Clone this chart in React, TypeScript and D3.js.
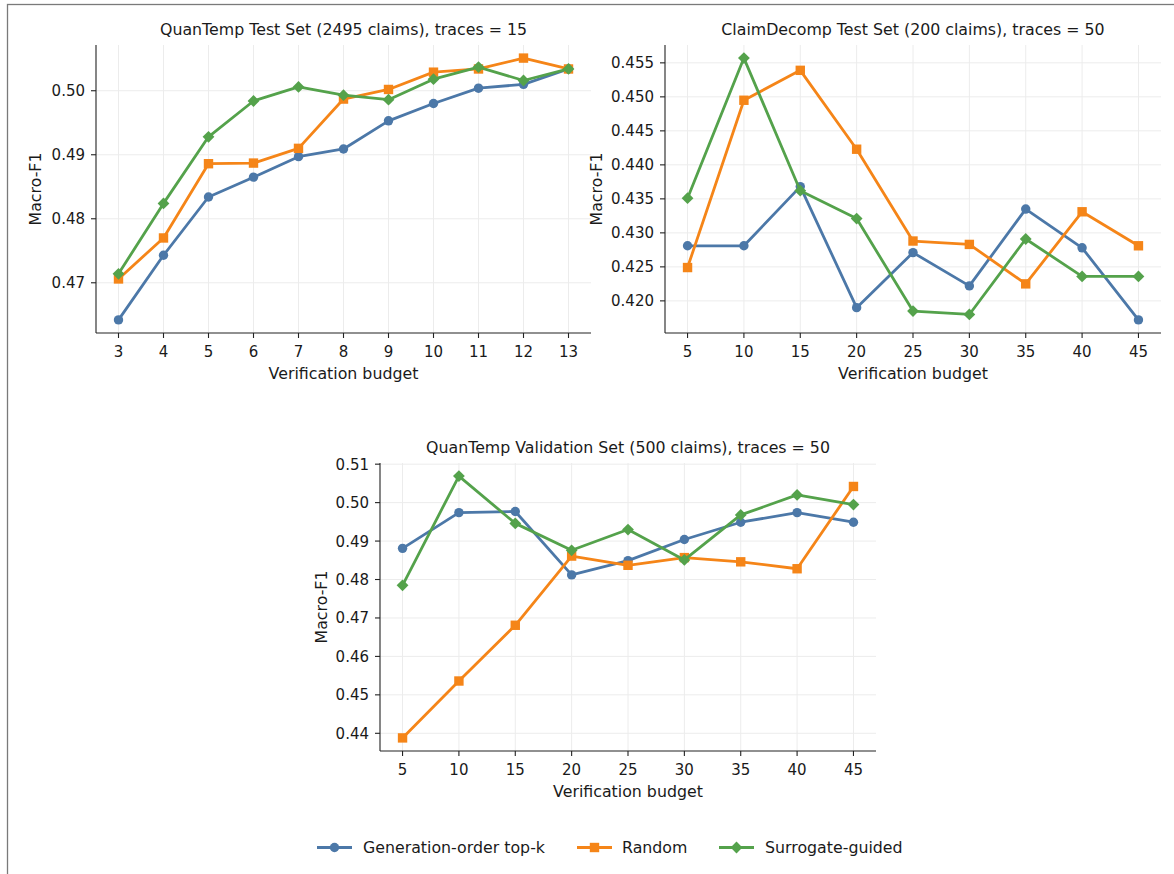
import React from "react";
import * as d3 from "d3";

// ---------- data ----------
const seriesNames = ["Generation-order top-k", "Random", "Surrogate-guided"];
const seriesColors = ["#4C78A8", "#F58518", "#54A24B"];
const seriesMarkers = ["circle", "square", "diamond"];

const p1Budgets = [3, 4, 5, 6, 7, 8, 9, 10, 11, 12, 13];
const p1Generation = [0.4642, 0.4743, 0.4834, 0.4865, 0.4897, 0.4909, 0.4953, 0.498, 0.5004, 0.501, 0.5034];
const p1Random = [0.4706, 0.477, 0.4886, 0.4887, 0.491, 0.4987, 0.5002, 0.5029, 0.5034, 0.5051, 0.5034];
const p1Surrogate = [0.4714, 0.4824, 0.4928, 0.4984, 0.5006, 0.4993, 0.4986, 0.5018, 0.5037, 0.5016, 0.5034];
const p1YTicks = [0.47, 0.48, 0.49, 0.5];

const p2Budgets = [5, 10, 15, 20, 25, 30, 35, 40, 45];
const p2Generation = [0.4281, 0.4281, 0.4368, 0.419, 0.4271, 0.4222, 0.4335, 0.4278, 0.4172];
const p2Random = [0.4249, 0.4495, 0.4539, 0.4423, 0.4288, 0.4283, 0.4225, 0.4331, 0.4281];
const p2Surrogate = [0.4351, 0.4557, 0.4362, 0.4321, 0.4185, 0.418, 0.4291, 0.4236, 0.4236];
const p2YTicks = [0.42, 0.425, 0.43, 0.435, 0.44, 0.445, 0.45, 0.455];

const p3Budgets = [5, 10, 15, 20, 25, 30, 35, 40, 45];
const p3Generation = [0.4881, 0.4974, 0.4977, 0.4812, 0.4849, 0.4904, 0.4949, 0.4974, 0.4949];
const p3Random = [0.4388, 0.4536, 0.4681, 0.4861, 0.4837, 0.4857, 0.4846, 0.4828, 0.5042];
const p3Surrogate = [0.4785, 0.5069, 0.4946, 0.4876, 0.493, 0.4851, 0.4968, 0.502, 0.4995];
const p3YTicks = [0.44, 0.45, 0.46, 0.47, 0.48, 0.49, 0.5, 0.51];

const panelTitles = [
  "QuanTemp Test Set (2495 claims), traces = 15",
  "ClaimDecomp Test Set (200 claims), traces = 50",
  "QuanTemp Validation Set (500 claims), traces = 50",
];
const xLabel = "Verification budget";
const yLabel = "Macro-F1";

const FONT = "DejaVu Sans, sans-serif";
const FS = 15.8;
const TICK_FS = 15;

type PanelProps = {
  left: number;
  top: number;
  width: number;
  height: number;
  budgets: number[];
  series: number[][];
  yTicks: number[];
  yFmt: string;
  title: string;
  yLabelOffset: number;
};

function Marker({ kind, x, y, color }: { kind: string; x: number; y: number; color: string }) {
  if (kind === "circle") return <circle cx={x} cy={y} r={4.7} fill={color} />;
  if (kind === "square") return <rect x={x - 4.7} y={y - 4.7} width={9.4} height={9.4} fill={color} />;
  const s = 5.9;
  return <path d={`M${x},${y - s}L${x + s},${y}L${x},${y + s}L${x - s},${y}Z`} fill={color} />;
}

function Panel(p: PanelProps) {
  const all = p.series.flat();
  const yMin = d3.min(all)!;
  const yMax = d3.max(all)!;
  const yPad = (yMax - yMin) * 0.05;
  const bMin = d3.min(p.budgets)!;
  const bMax = d3.max(p.budgets)!;
  const xPad = (bMax - bMin) * 0.05;
  const x = d3.scaleLinear().domain([bMin - xPad, bMax + xPad]).range([p.left, p.left + p.width]);
  const y = d3.scaleLinear().domain([yMin - yPad, yMax + yPad]).range([p.top + p.height, p.top]);
  const fmt = d3.format(p.yFmt);
  const bottom = p.top + p.height;
  const line = d3
    .line<number>()
    .x((_, i) => x(p.budgets[i]))
    .y((d) => y(d));
  return (
    <g>
      {p.budgets.map((b) => (
        <line key={"gx" + b} x1={x(b)} x2={x(b)} y1={p.top} y2={bottom} stroke="#ececec" strokeWidth={1} />
      ))}
      {p.yTicks.map((t) => (
        <line key={"gy" + t} x1={p.left} x2={p.left + p.width} y1={y(t)} y2={y(t)} stroke="#ececec" strokeWidth={1} />
      ))}
      {p.series.map((s, si) => (
        <g key={"s" + si}>
          <path d={line(s)!} fill="none" stroke={seriesColors[si]} strokeWidth={2.8} strokeLinejoin="round" />
          {s.map((v, i) => (
            <Marker key={i} kind={seriesMarkers[si]} x={x(p.budgets[i])} y={y(v)} color={seriesColors[si]} />
          ))}
        </g>
      ))}
      <line x1={p.left} x2={p.left} y1={p.top} y2={bottom} stroke="#222" strokeWidth={1.1} />
      <line x1={p.left} x2={p.left + p.width} y1={bottom} y2={bottom} stroke="#222" strokeWidth={1.1} />
      {p.budgets.map((b) => (
        <g key={"xt" + b}>
          <line x1={x(b)} x2={x(b)} y1={bottom} y2={bottom + 5} stroke="#222" strokeWidth={1.1} />
          <text x={x(b)} y={bottom + 24} textAnchor="middle" fontFamily={FONT} fontSize={TICK_FS} fill="#1a1a1a">
            {b}
          </text>
        </g>
      ))}
      {p.yTicks.map((t) => (
        <g key={"yt" + t}>
          <line x1={p.left - 5} x2={p.left} y1={y(t)} y2={y(t)} stroke="#222" strokeWidth={1.1} />
          <text x={p.left - 11} y={y(t) + 5.5} textAnchor="end" fontFamily={FONT} fontSize={TICK_FS} fill="#1a1a1a">
            {fmt(t)}
          </text>
        </g>
      ))}
      <text
        x={p.left + p.width / 2}
        y={p.top - 10.5}
        textAnchor="middle"
        fontFamily={FONT}
        fontSize={FS}
        fill="#1a1a1a"
      >
        {p.title}
      </text>
      <text x={p.left + p.width / 2} y={bottom + 46} textAnchor="middle" fontFamily={FONT} fontSize={FS} fill="#1a1a1a">
        {xLabel}
      </text>
      <text
        transform={`translate(${p.left - p.yLabelOffset},${p.top + p.height / 2}) rotate(-90)`}
        textAnchor="middle"
        fontFamily={FONT}
        fontSize={FS}
        fill="#1a1a1a"
      >
        {yLabel}
      </text>
    </g>
  );
}

function Legend({ cy }: { cy: number }) {
  const items = [
    { lx: 317, tx: 363 },
    { lx: 577, tx: 622 },
    { lx: 719, tx: 765 },
  ];
  return (
    <g>
      {seriesNames.map((name, i) => (
        <g key={name}>
          <line x1={items[i].lx} x2={items[i].lx + 35} y1={cy} y2={cy} stroke={seriesColors[i]} strokeWidth={2.8} />
          <Marker kind={seriesMarkers[i]} x={items[i].lx + 17.5} y={cy} color={seriesColors[i]} />
          <text x={items[i].tx} y={cy + 5.5} fontFamily={FONT} fontSize={FS} fill="#1a1a1a">
            {name}
          </text>
        </g>
      ))}
    </g>
  );
}

export default function App() {
  return (
    <svg
      width={1174}
      height={874}
      style={{ position: "absolute", left: 0, top: 0, background: "#fff" }}
    >
      <rect x={0} y={0} width={1174} height={874} fill="#fff" />
      <rect x={7.5} y={4.5} width={1200} height={900} fill="none" stroke="#7a7a7a" strokeWidth={1.3} />
      <Panel
        left={96}
        top={45}
        width={495}
        height={288}
        budgets={p1Budgets}
        series={[p1Generation, p1Random, p1Surrogate]}
        yTicks={p1YTicks}
        yFmt=".2f"
        title={panelTitles[0]}
        yLabelOffset={55}
      />
      <Panel
        left={665}
        top={45}
        width={496}
        height={288}
        budgets={p2Budgets}
        series={[p2Generation, p2Random, p2Surrogate]}
        yTicks={p2YTicks}
        yFmt=".3f"
        title={panelTitles[1]}
        yLabelOffset={63}
      />
      <Panel
        left={380}
        top={463}
        width={496}
        height={288}
        budgets={p3Budgets}
        series={[p3Generation, p3Random, p3Surrogate]}
        yTicks={p3YTicks}
        yFmt=".2f"
        title={panelTitles[2]}
        yLabelOffset={53}
      />
      <Legend cy={847.5} />
    </svg>
  );
}
